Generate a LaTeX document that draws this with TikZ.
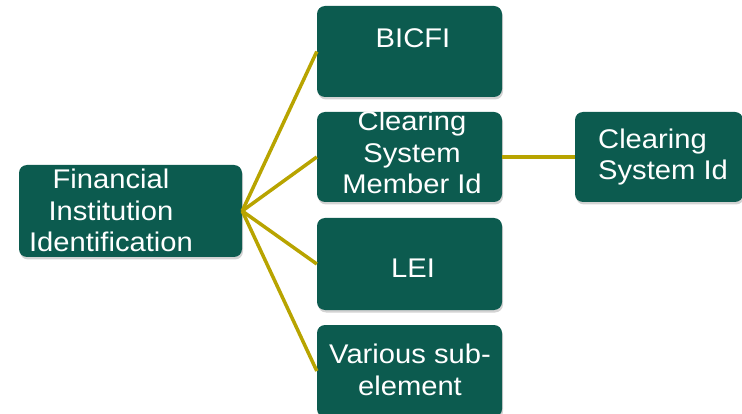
\documentclass[tikz,border=0pt]{standalone}
\usepackage{fontspec}
\setmainfont[FakeStretch=1.08]{Liberation Sans}
\usetikzlibrary{shadows}
\definecolor{boxgreen}{RGB}{12,91,79}
\definecolor{linkolive}{RGB}{184,164,0}
\tikzset{
  boxnode/.style={fill=boxgreen, rounded corners=8pt, inner sep=0pt,
    drop shadow={opacity=0.35, shadow xshift=1pt, shadow yshift=-2.5pt}},
  label text/.style={text=white, align=center, inner sep=0pt,
    font=\fontsize{27}{31.5}\selectfont},
  link/.style={draw=linkolive, line width=3.5pt}
}
\begin{document}
\begin{tikzpicture}[x=1pt,y=-1pt]
\useasboundingbox (0,0) rectangle (742,414);
% boxes
\node[boxnode, minimum width=223pt, minimum height=92pt] (root) at (130.5,211) {};
\node[boxnode, minimum width=185pt, minimum height=91pt] (bicfi) at (409.5,51.5) {};
\node[boxnode, minimum width=185pt, minimum height=90pt] (csmi) at (409.5,157) {};
\node[boxnode, minimum width=185pt, minimum height=92pt] (lei) at (409.5,264) {};
\node[boxnode, minimum width=185pt, minimum height=92pt] (various) at (409.5,371) {};
\node[boxnode, minimum width=168pt, minimum height=90pt] (csid) at (659,157) {};
% connectors
\draw[link] (root.east) -- (bicfi.west);
\draw[link] (root.east) -- (csmi.west);
\draw[link] (root.east) -- (lei.west);
\draw[link] (root.east) -- (various.west);
\draw[link] (csmi.east) -- (csid.west);
% texts (base anchor = baseline of the last line)
\node[label text, anchor=base] (troot) at (111,252) {Financial\\Institution\\Identification};
\node[label text, anchor=base] (tbicfi) at (413,48) {BICFI};
\node[label text, anchor=base] (tcsmi) at (412,194) {Clearing\\System\\Member Id};
\node[label text, anchor=base] (tlei) at (413,278) {LEI};
\node[label text, anchor=base] (tvarious) at (410,395) {Various sub-\\element};
\node[label text, anchor=base west, align=left] (tcsid) at (598,180) {Clearing\\System Id};
\end{tikzpicture}
\end{document}
